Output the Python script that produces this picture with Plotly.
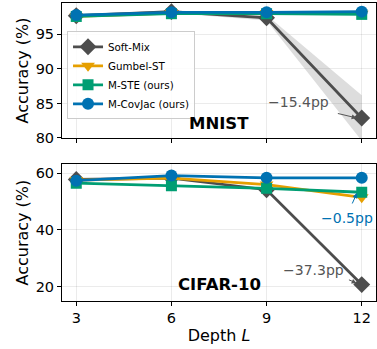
import plotly.graph_objects as go
from plotly.subplots import make_subplots

depths = [3, 6, 9, 12]
methods = ["Soft-Mix", "Gumbel-ST", "M-STE (ours)", "M-CovJac (ours)"]
colors = ["#4d4d4d", "#E69F00", "#009E73", "#0072B2"]
symbols = ["diamond", "triangle-down", "square", "circle"]
sizes = [13, 12, 11, 12]

mnist_softmix = [97.7, 98.3, 97.4, 82.9]
mnist_softmix_std = [0.2, 0.2, 0.4, 3.3]
mnist_gumbel = [97.6, 98.1, 98.1, 98.0]
mnist_mste = [97.6, 98.0, 98.0, 97.9]
mnist_covjac = [97.8, 98.2, 98.2, 98.3]

cifar_softmix = [57.8, 58.3, 54.2, 20.7]
cifar_gumbel = [57.6, 58.3, 56.0, 51.5]
cifar_mste = [56.5, 55.6, 54.7, 53.3]
cifar_covjac = [57.4, 59.2, 58.4, 58.4]

mnist = [mnist_softmix, mnist_gumbel, mnist_mste, mnist_covjac]
cifar = [cifar_softmix, cifar_gumbel, cifar_mste, cifar_covjac]

FONT = "DejaVu Sans"
fig = make_subplots(rows=2, cols=1, shared_xaxes=False, vertical_spacing=0.09)

# shaded band for Soft-Mix MNIST
upper = [m + s for m, s in zip(mnist_softmix, mnist_softmix_std)]
lower = [m - s for m, s in zip(mnist_softmix, mnist_softmix_std)]
fig.add_trace(go.Scatter(x=depths, y=upper, mode="lines", line=dict(width=0),
                         showlegend=False, hoverinfo="skip"), row=1, col=1)
fig.add_trace(go.Scatter(x=depths, y=lower, mode="lines", line=dict(width=0),
                         fill="tonexty", fillcolor="rgba(120,120,120,0.25)",
                         showlegend=False, hoverinfo="skip"), row=1, col=1)

for i, name in enumerate(methods):
    fig.add_trace(go.Scatter(x=depths, y=mnist[i], name=name, mode="lines+markers",
                             line=dict(color=colors[i], width=2.8),
                             marker=dict(symbol=symbols[i], size=sizes[i], color=colors[i]),
                             legendgroup=name), row=1, col=1)
for i, name in enumerate(methods):
    fig.add_trace(go.Scatter(x=depths, y=cifar[i], name=name, mode="lines+markers",
                             line=dict(color=colors[i], width=2.8),
                             marker=dict(symbol=symbols[i], size=sizes[i], color=colors[i]),
                             legendgroup=name, showlegend=False), row=2, col=1)

axis_common = dict(showline=True, linecolor="black", linewidth=1, mirror=True,
                   ticks="outside", ticklen=4, tickcolor="black",
                   showgrid=True, gridcolor="rgba(0,0,0,0.08)", gridwidth=1,
                   zeroline=False, tickfont=dict(family=FONT, size=14.5, color="black"))

fig.update_xaxes(**axis_common, range=[2.55, 12.45], tickvals=depths)
fig.update_xaxes(showticklabels=False, row=1, col=1)
fig.update_xaxes(title=dict(text="Depth <i>L</i>", font=dict(family=FONT, size=16), standoff=4),
                 row=2, col=1)
fig.update_yaxes(**axis_common)
fig.update_yaxes(range=[80, 99.55], tickvals=[80, 85, 90, 95], row=1, col=1,
                 title=dict(text="Accuracy (%)", font=dict(family=FONT, size=16), standoff=3))
fig.update_yaxes(range=[14.9, 63.2], tickvals=[20, 40, 60], row=2, col=1,
                 title=dict(text="Accuracy (%)", font=dict(family=FONT, size=16), standoff=3))

fig.update_layout(
    width=377, height=349,
    margin=dict(l=62, r=1, t=3, b=48),
    plot_bgcolor="white", paper_bgcolor="white",
    font=dict(family=FONT, color="black"),
    yaxis=dict(domain=[0.547, 1.0]),
    yaxis2=dict(domain=[0.0, 0.459]),
    legend=dict(x=0.016, y=0.905, xanchor="left", yanchor="top",
                bgcolor="rgba(255,255,255,0.85)", bordercolor="#cccccc", borderwidth=1,
                font=dict(family=FONT, size=10.3), tracegroupgap=0, itemwidth=30),
    showlegend=True,
)

gray = "#555555"
blue = "#0072B2"
# panel labels
fig.add_annotation(x=7.5, y=82.1, xref="x", yref="y", text="<b>MNIST</b>", showarrow=False,
                   font=dict(family=FONT, size=16.5, color="black"))
fig.add_annotation(x=7.5, y=20.8, xref="x2", yref="y2", text="<b>CIFAR-10</b>", showarrow=False,
                   font=dict(family=FONT, size=16.5, color="black"))
# drop annotations
fig.add_annotation(x=10.0, y=85.2, xref="x", yref="y", text="−15.4pp", showarrow=False,
                   font=dict(family=FONT, size=14, color=gray))
fig.add_annotation(x=11.84, y=82.9, ax=11.2, ay=83.6, xref="x", yref="y", axref="x", ayref="y",
                   text="", showarrow=True, arrowhead=2, arrowsize=1, arrowwidth=1, arrowcolor=gray)
fig.add_annotation(x=10.48, y=25.8, xref="x2", yref="y2", text="−37.3pp", showarrow=False,
                   font=dict(family=FONT, size=14, color=gray))
fig.add_annotation(x=11.84, y=21.2, ax=11.55, ay=22.6, xref="x2", yref="y2", axref="x2", ayref="y2",
                   text="", showarrow=True, arrowhead=2, arrowsize=1, arrowwidth=1, arrowcolor=gray)
fig.add_annotation(x=11.52, y=44.1, xref="x2", yref="y2", text="−0.5pp", showarrow=False,
                   font=dict(family=FONT, size=14, color=blue))
fig.add_annotation(x=11.85, y=53.0, ax=11.68, ay=48.8, xref="x2", yref="y2", axref="x2", ayref="y2",
                   text="", showarrow=True, arrowhead=2, arrowsize=1, arrowwidth=1, arrowcolor=blue)

fig.write_html("out.html")
